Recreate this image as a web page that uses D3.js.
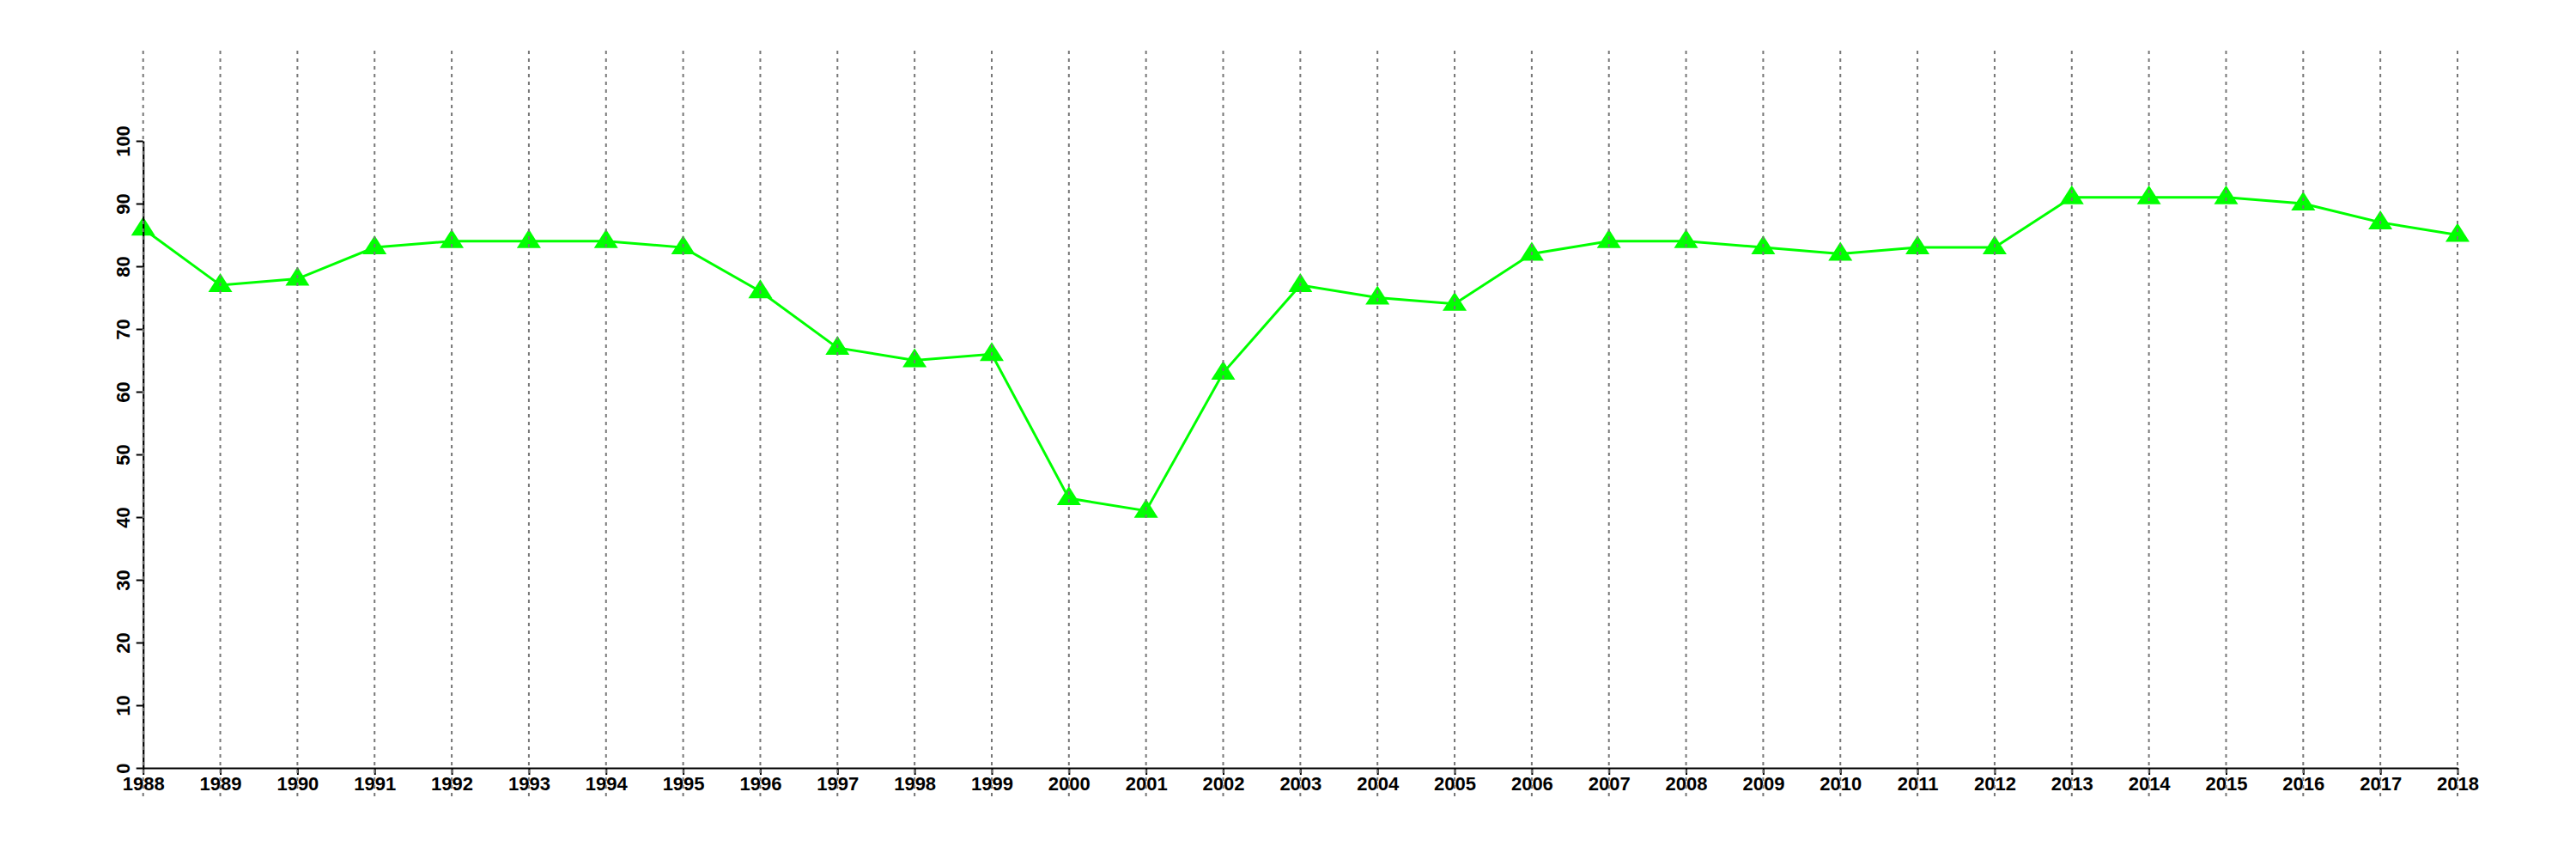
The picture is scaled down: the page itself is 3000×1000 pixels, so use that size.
<!DOCTYPE html>
<html><head><meta charset="utf-8">
<script src="https://cdn.jsdelivr.net/npm/d3@7"></script>
<style>body{margin:0;background:#fff}svg{display:block}</style>
</head><body>
<script>
const years = [1988,1989,1990,1991,1992,1993,1994,1995,1996,1997,1998,1999,2000,2001,2002,2003,2004,2005,2006,2007,2008,2009,2010,2011,2012,2013,2014,2015,2016,2017,2018];
const values = [86,77,78,83,84,84,84,83,76,67,65,66,43,41,63,77,75,74,82,84,84,83,82,83,83,91,91,91,90,87,85];
const yTicks = [0,10,20,30,40,50,60,70,80,90,100];

const W = 3000, H = 1000;
const svg = d3.select("body").append("svg").attr("width", W).attr("height", H);
const x = d3.scaleLinear().domain([1988, 2018]).range([166.7, 2862]);
const y = d3.scaleLinear().domain([0, 100]).range([894, 164]);
const font = "'Liberation Sans', Arial, Helvetica, sans-serif";

// Line
const line = d3.line().x((d, i) => x(years[i])).y(d => y(d));
svg.append("path").datum(values).attr("d", line)
  .attr("fill", "none").attr("stroke", "#00ff00").attr("stroke-width", 3);

// Triangle markers
svg.selectAll("path.m").data(values).join("path").attr("class", "m")
  .attr("transform", (d, i) => `translate(${x(years[i])},${y(d)})`)
  .attr("d", "M0,-14 L14,8 L-14,8 Z")
  .attr("fill", "#00ff00");

// Axes
const yAxis = svg.append("g").attr("transform", `translate(${x(1988)},0)`)
  .call(d3.axisLeft(y).tickValues(yTicks).tickSize(8).tickSizeOuter(0).tickFormat(d3.format("d")));
yAxis.select(".domain").attr("stroke", "#000").attr("stroke-width", 2.2);
yAxis.selectAll(".tick line").attr("stroke", "#000").attr("stroke-width", 2);
yAxis.selectAll(".tick text")
  .attr("transform", "rotate(-90)")
  .attr("x", 0).attr("y", -15.5).attr("dy", 0)
  .attr("text-anchor", "middle")
  .style("font-family", font).style("font-size", "22px").style("font-weight", "bold").attr("fill", "#000");

const xAxis = svg.append("g").attr("transform", `translate(0,${y(0)})`)
  .call(d3.axisBottom(x).tickValues(years).tickSize(8).tickSizeOuter(0).tickFormat(d3.format("d")));
xAxis.select(".domain").attr("stroke", "#000").attr("stroke-width", 2.2);
xAxis.selectAll(".tick line").attr("stroke", "#000").attr("stroke-width", 2);
xAxis.selectAll(".tick text")
  .attr("y", 26).attr("dy", 0)
  .style("font-family", font).style("font-size", "22px").style("font-weight", "bold").attr("fill", "#000");

// Vertical dashed grid lines (drawn on top)
svg.append("g").selectAll("line").data(years).join("line")
  .attr("x1", d => x(d)).attr("x2", d => x(d))
  .attr("y1", 59).attr("y2", 928)
  .attr("stroke", "#777").attr("stroke-width", 2)
  .attr("stroke-dasharray", "4,5");
</script>
</body></html>
